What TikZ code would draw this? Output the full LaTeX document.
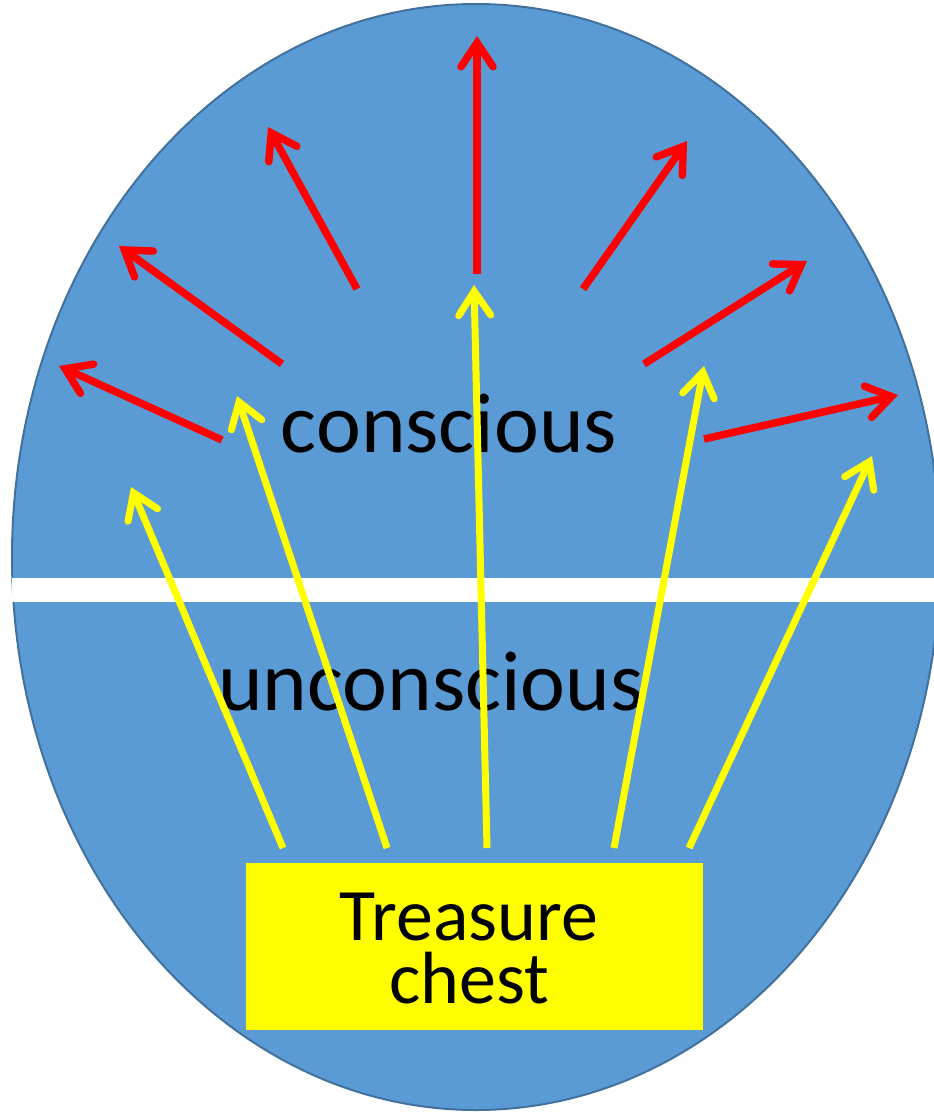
\documentclass[tikz,border=0pt]{standalone}
\usepackage{fontspec}
\setmainfont{Carlito}
\usetikzlibrary{arrows.meta}
\definecolor{egg}{HTML}{5B9BD5}
\definecolor{eggborder}{HTML}{41719C}
\definecolor{hot}{HTML}{FF0000}
\definecolor{glow}{HTML}{FFFF00}
\tikzset{
  tipstyle/.style={-{Straight Barb[length=24pt,width=32pt,line cap=round,line join=miter]}},
  redarrow/.style={tipstyle,draw=hot,line width=7.5pt},
  yellowarrow/.style={tipstyle,draw=glow,line width=7pt},
  bigtext/.style={anchor=base,inner sep=0pt,font=\fontsize{85}{85}\selectfont},
  chesttext/.style={anchor=base,inner sep=0pt,align=center,font=\fontsize{74}{63}\selectfont}
}
\begin{document}
\begin{tikzpicture}[x=1pt,y=-1pt]
\useasboundingbox (0,0) rectangle (934,1112);
\clip (0,0) rectangle (934,1112);
% egg
\draw[fill=egg,draw=eggborder,line width=2pt] (476,557) ellipse [x radius=464, y radius=553];
% white divider
\fill[white] (12,578) rectangle (940,602);
% treasure chest
\node[fill=glow,minimum width=457pt,minimum height=167pt,inner sep=0pt] (chest) at (474.5,946.5) {};
\node[chesttext] (t1) at (469,1003) {Treasure\\chest};
% labels
\node[bigtext] (con) at (449,452) {conscious};
\node[bigtext] (uncon) at (431,710) {unconscious};
% red arrow coordinates
\coordinate (r1s) at (222,440); \coordinate (r1e) at (59,366);
\coordinate (r2s) at (282,364); \coordinate (r2e) at (119,246);
\coordinate (r3s) at (357,289); \coordinate (r3e) at (268,127);
\coordinate (r4s) at (477,274); \coordinate (r4e) at (477,36);
\coordinate (r5s) at (583,289); \coordinate (r5e) at (687,141);
\coordinate (r6s) at (644,364); \coordinate (r6e) at (807,261);
\coordinate (r7s) at (704,439); \coordinate (r7e) at (898,395);
% yellow arrow coordinates
\coordinate (y1s) at (283,848); \coordinate (y1e) at (131,487);
\coordinate (y2s) at (387,848); \coordinate (y2e) at (237,396);
\coordinate (y3s) at (487,848); \coordinate (y3e) at (474,285);
\coordinate (y4s) at (614,848); \coordinate (y4e) at (704,366);
\coordinate (y5s) at (689,848); \coordinate (y5e) at (872,456);
\foreach \i in {1,...,7} {\draw[redarrow] (r\i s) -- (r\i e);}
\foreach \i in {1,...,5} {\draw[yellowarrow] (y\i s) -- (y\i e);}
\end{tikzpicture}
\end{document}
